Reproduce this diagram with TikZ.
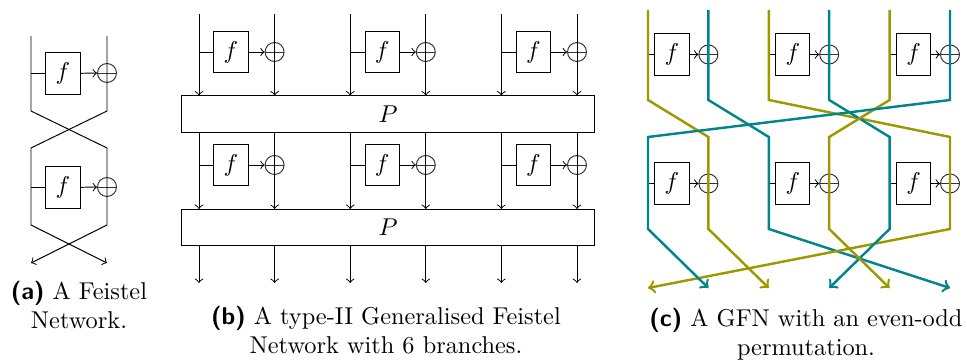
\documentclass[tikz,border=0pt]{standalone}
\usepackage{tikz}
\usetikzlibrary{calc}
\definecolor{olivewire}{RGB}{158,152,0}
\definecolor{tealwire}{RGB}{0,134,138}
\tikzset{
  fbox/.style={draw, minimum width=14pt, minimum height=16.9pt, inner sep=0pt},
  xorgate/.style={draw=black!80, circle, minimum size=7.8pt, inner sep=0pt,
    path picture={\draw[black!80] (path picture bounding box.west) -- (path picture bounding box.east);}},
  pbox/.style={draw, minimum width=170pt, minimum height=14.8pt},
  evenwire/.style={olivewire, line width=1pt},
  oddwire/.style={tealwire, line width=1pt},
  caption/.style={align=center},
}

\begin{document}
\begin{tikzpicture}[x=0.411pt,y=-0.411pt]
	\useasboundingbox (0,0) rectangle (967,363);

	%PANEL A
	\coordinate (aL0) at (31,36);
	\coordinate (aR0) at (107,36);
	\coordinate (aL1) at (31,263);
	\coordinate (aR1) at (107,263);
	\node[fbox] (fa1) at (63,73.5) {$f$};
	\node[xorgate] (xa1) at (107,73) {};
	\node[fbox] (fa2) at (63,187.5) {$f$};
	\node[xorgate] (xa2) at (107,187) {};
	\draw[->] (aL0) -- ++(0,75) -- ++(76,37) -- ++(0,77) -- (aL1);
	\draw[->] (aR0) -- ++(0,75) -- ++(-76,37) -- ++(0,77) -- (aR1);
	\draw (fa1.west) -- (fa1.west -| aL0);
	\draw[->] (fa1) -- (xa1);
	\draw (fa2.west) -- (fa2.west -| aL0);
	\draw[->] (fa2) -- (xa2);
	\node[caption] (capa) at (79,305) {\textsf{\textbf{(a)}} A Feistel\\Network.};

	%PANEL B
	\foreach \i in {0,...,5}{
		\coordinate (bt\i) at ({199+75.6*\i},14);
		\coordinate (bb\i) at ({199+75.6*\i},283);
	}
	\node[pbox] (P1) at (388,114) {$P$};
	\node[pbox] (P2) at (388,227.5) {$P$};
	\foreach \k in {0,1,2}{
		\pgfmathtruncatemacro\l{2*\k}
		\pgfmathtruncatemacro\r{2*\k+1}
		\node[fbox] (fb1\k) at ($(bt\l)+(32,38)$) {$f$};
		\node[xorgate] (xb1\k) at (bt\r |- fb1\k) {};
		\node[fbox] (fb2\k) at ($(bt\l)+(32,151)$) {$f$};
		\node[xorgate] (xb2\k) at (bt\r |- fb2\k) {};
		\draw (fb1\k.west) -- (fb1\k.west -| bt\l);
		\draw[->] (fb1\k) -- (xb1\k);
		\draw (fb2\k.west) -- (fb2\k.west -| bt\l);
		\draw[->] (fb2\k) -- (xb2\k);
	}
	\foreach \i in {0,...,5}{
		\draw[->] (bt\i) -- (bt\i |- P1.north);
		\draw[->] (P1.south -| bt\i) -- (P2.north -| bt\i);
		\draw[->] (P2.south -| bt\i) -- (bb\i);
	}
	\node[caption] (capb) at (386,330) {\textsf{\textbf{(b)}} A type-II Generalised Feistel\\Network with 6 branches.};

	%PANEL C
	\foreach \i in {0,...,5}{
		\coordinate (ct\i) at ({648+60.4*\i},10);
		\coordinate (cu\i) at ({648+60.4*\i},100);
		\coordinate (cv\i) at ({648+60.4*\i},137);
		\coordinate (cw\i) at ({648+60.4*\i},229);
		\coordinate (cb\i) at ({648+60.4*\i},288);
	}
	\foreach \k in {0,1,2}{
		\pgfmathtruncatemacro\l{2*\k}
		\pgfmathtruncatemacro\r{2*\k+1}
		\node[fbox] (fc1\k) at ($(ct\l)+(24,44.5)$) {$f$};
		\node[xorgate] (xc1\k) at (ct\r |- fc1\k) {};
		\node[fbox] (fc2\k) at ($(cv\l)+(24,46.5)$) {$f$};
		\node[xorgate] (xc2\k) at (ct\r |- fc2\k) {};
		\draw (fc1\k.west) -- (fc1\k.west -| ct\l);
		\draw[->] (fc1\k) -- (xc1\k);
		\draw (fc2\k.west) -- (fc2\k.west -| ct\l);
		\draw[->] (fc2\k) -- (xc2\k);
	}
	% even-odd permutation, applied twice
	\foreach \i/\p/\q/\col in {0/1/2/evenwire,1/2/5/oddwire,2/5/0/evenwire,3/4/3/oddwire,4/3/4/evenwire,5/0/1/oddwire}
		\draw[\col,->] (ct\i) -- (cu\i) -- (cv\p) -- (cw\p) -- (cb\q);
	\node[caption] (capc) at (806,334) {\textsf{\textbf{(c)}} A GFN with an even-odd\\permutation.};
\end{tikzpicture}
\end{document}
